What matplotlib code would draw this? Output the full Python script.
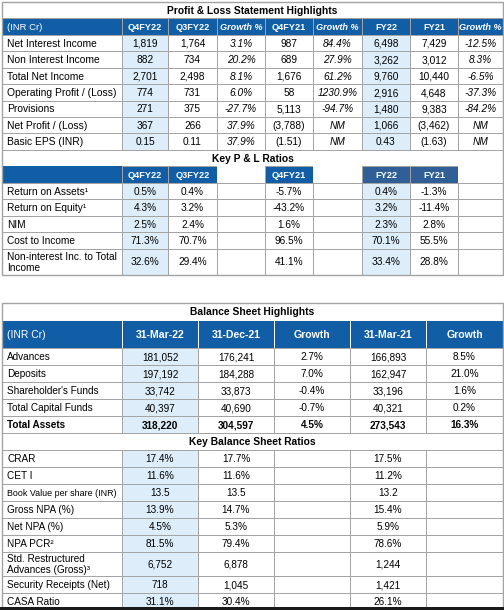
import matplotlib.pyplot as plt
from matplotlib.patches import Rectangle

plt.rcParams["font.family"] = ["Liberation Sans", "DejaVu Sans"]

# data

pl_title = "Profit & Loss Statement Highlights"
pl_unit = "(INR Cr)"
pl_cols = ["Q4FY22", "Q3FY22", "Growth %", "Q4FY21", "Growth %", "FY22", "FY21", "Growth %"]
pl_rows = [
    "Net Interest Income",
    "Non Interest Income",
    "Total Net Income",
    "Operating Profit / (Loss)",
    "Provisions",
    "Net Profit / (Loss)",
    "Basic EPS (INR)",
]
pl_values = [
    ["1,819", "1,764", "3.1%", "987", "84.4%", "6,498", "7,429", "-12.5%"],
    ["882", "734", "20.2%", "689", "27.9%", "3,262", "3,012", "8.3%"],
    ["2,701", "2,498", "8.1%", "1,676", "61.2%", "9,760", "10,440", "-6.5%"],
    ["774", "731", "6.0%", "58", "1230.9%", "2,916", "4,648", "-37.3%"],
    ["271", "375", "-27.7%", "5,113", "-94.7%", "1,480", "9,383", "-84.2%"],
    ["367", "266", "37.9%", "(3,788)", "NM", "1,066", "(3,462)", "NM"],
    ["0.15", "0.11", "37.9%", "(1.51)", "NM", "0.43", "(1.63)", "NM"],
]

plr_title = "Key P & L Ratios"
plr_cols = ["Q4FY22", "Q3FY22", "", "Q4FY21", "", "FY22", "FY21", ""]
plr_rows = [
    "Return on Assets¹",
    "Return on Equity¹",
    "NIM",
    "Cost to Income",
    "Non-interest Inc. to Total\nIncome",
]
plr_values = [
    ["0.5%", "0.4%", "", "-5.7%", "", "0.4%", "-1.3%", ""],
    ["4.3%", "3.2%", "", "-43.2%", "", "3.2%", "-11.4%", ""],
    ["2.5%", "2.4%", "", "1.6%", "", "2.3%", "2.8%", ""],
    ["71.3%", "70.7%", "", "96.5%", "", "70.1%", "55.5%", ""],
    ["32.6%", "29.4%", "", "41.1%", "", "33.4%", "28.8%", ""],
]

bs_title = "Balance Sheet Highlights"
bs_cols = ["31-Mar-22", "31-Dec-21", "Growth", "31-Mar-21", "Growth"]
bs_rows = ["Advances", "Deposits", "Shareholder's Funds", "Total Capital Funds", "Total Assets"]
bs_values = [
    ["181,052", "176,241", "2.7%", "166,893", "8.5%"],
    ["197,192", "184,288", "7.0%", "162,947", "21.0%"],
    ["33,742", "33,873", "-0.4%", "33,196", "1.6%"],
    ["40,397", "40,690", "-0.7%", "40,321", "0.2%"],
    ["318,220", "304,597", "4.5%", "273,543", "16.3%"],
]

bsr_title = "Key Balance Sheet Ratios"
bsr_rows = [
    "CRAR",
    "CET I",
    "Book Value per share (INR)",
    "Gross NPA (%)",
    "Net NPA (%)",
    "NPA PCR²",
    "Std. Restructured\nAdvances (Gross)³",
    "Security Receipts (Net)",
    "CASA Ratio",
]
bsr_values = [
    ["17.4%", "17.7%", "", "17.5%", ""],
    ["11.6%", "11.6%", "", "11.2%", ""],
    ["13.5", "13.5", "", "13.2", ""],
    ["13.9%", "14.7%", "", "15.4%", ""],
    ["4.5%", "5.3%", "", "5.9%", ""],
    ["81.5%", "79.4%", "", "78.6%", ""],
    ["6,752", "6,878", "", "1,244", ""],
    ["718", "1,045", "", "1,421", ""],
    ["31.1%", "30.4%", "", "26.1%", ""],
]

# layout / colours

BLUE = "#115ea6"
DARK_BLUE = "#2f5f96"
LIGHT = "#ddedfa"
GRID = "#a3a3a3"

top_edges = [2, 122, 168, 217, 265, 313, 362, 410, 458, 503]
bot_edges = [2, 122, 198, 274, 350, 426, 503]

fig = plt.figure(figsize=(5.04, 6.10), dpi=100)
ax = fig.add_axes([0, 0, 1, 1])
ax.set_xlim(0, 504)
ax.set_ylim(610, 0)
ax.axis("off")


def cell(x0, x1, y0, y1, text="", fill="white", color="black", size=7.2,
         weight="normal", style="normal", ha="center", edge=GRID):
    ax.add_patch(Rectangle((x0, y0), x1 - x0, y1 - y0, facecolor=fill,
                           edgecolor=edge, linewidth=0.7))
    if not text:
        return
    tx = x0 + 5 if ha == "left" else (x0 + x1) / 2
    if "\n" in text:
        ax.text(tx, (y0 + y1) / 2 + 0.5, text, ha=ha, va="center",
                color=color, fontsize=size, fontweight=weight,
                fontstyle=style, linespacing=1.15)
    else:
        # baseline placed so the cap height sits centred in the cell
        cap = 0.72 * size * 100 / 72
        ax.text(tx, (y0 + y1) / 2 + cap / 2, text, ha=ha, va="baseline",
                color=color, fontsize=size, fontweight=weight,
                fontstyle=style)


def title_row(x0, x1, y0, y1, text):
    cell(x0, x1, y0, y1, text, size=7.4, weight="bold")


# Profit & Loss highlights
title_row(2, 503, 2, 18, pl_title)
y0, y1 = 18, 35
cell(top_edges[0], top_edges[1], y0, y1, pl_unit, fill=BLUE, color="white",
     size=6.8, ha="left")
for j, c in enumerate(pl_cols):
    italic = "Growth" in c
    cell(top_edges[j + 1], top_edges[j + 2], y0, y1, c, fill=BLUE,
         color="white", size=6.6, weight="bold",
         style="italic" if italic else "normal")

y = 35
for i, name in enumerate(pl_rows):
    h = 16.4
    cell(top_edges[0], top_edges[1], y, y + h, name, ha="left", size=7.4)
    for j, v in enumerate(pl_values[i]):
        fill = LIGHT if j in (0, 5) else "white"
        italic = "Growth" in pl_cols[j]
        cell(top_edges[j + 1], top_edges[j + 2], y, y + h, v, fill=fill,
             size=7.3, style="italic" if italic else "normal")
    y += h

# Key P&L ratios
title_row(2, 503, y, y + 16, plr_title)
y += 16
h = 17
cell(top_edges[0], top_edges[1], y, y + h, "", fill=BLUE, edge=BLUE)
for j, c in enumerate(plr_cols):
    if c == "":
        cell(top_edges[j + 1], top_edges[j + 2], y, y + h, "", edge="white")
        continue
    fill = DARK_BLUE if c in ("FY22", "FY21") else BLUE
    cell(top_edges[j + 1], top_edges[j + 2], y, y + h, c, fill=fill,
         color="white", size=6.6, weight="bold", edge=GRID)
y += h
for i, name in enumerate(plr_rows):
    h = 26 if "\n" in name else 16.5
    cell(top_edges[0], top_edges[1], y, y + h, name, ha="left", size=7.3)
    for j, v in enumerate(plr_values[i]):
        fill = LIGHT if j in (0, 5) else "white"
        cell(top_edges[j + 1], top_edges[j + 2], y, y + h, v, fill=fill,
             size=7.3)
    y += h
ax.add_patch(Rectangle((2, 2), 501, y - 2, fill=False, edgecolor=GRID, linewidth=1.0))

# Balance sheet highlights
top = 303
title_row(2, 503, top, top + 17, bs_title)
y = top + 17
h = 28
cell(bot_edges[0], bot_edges[1], y, y + h, pl_unit, fill=BLUE, color="white",
     size=7.4, ha="left", edge="white")
for j, c in enumerate(bs_cols):
    cell(bot_edges[j + 1], bot_edges[j + 2], y, y + h, c, fill=BLUE,
         color="white", size=7.6, weight="bold", edge="white")
y += h
for i, name in enumerate(bs_rows):
    h = 17
    bold = "bold" if name == "Total Assets" else "normal"
    cell(bot_edges[0], bot_edges[1], y, y + h, name, ha="left", weight=bold)
    for j, v in enumerate(bs_values[i]):
        fill = LIGHT if j == 0 else "white"
        cell(bot_edges[j + 1], bot_edges[j + 2], y, y + h, v, fill=fill,
             weight=bold)
    y += h

# Key balance sheet ratios
title_row(2, 503, y, y + 17, bsr_title)
y += 17
for i, name in enumerate(bsr_rows):
    h = 24 if "\n" in name else 17
    size = 6.4 if name.startswith("Book") else 7.2
    cell(bot_edges[0], bot_edges[1], y, y + h, name, ha="left", size=size)
    for j, v in enumerate(bsr_values[i]):
        fill = LIGHT if j == 0 else "white"
        cell(bot_edges[j + 1], bot_edges[j + 2], y, y + h, v, fill=fill)
    y += h
ax.add_patch(Rectangle((2, top), 501, y - top, fill=False, edgecolor=GRID, linewidth=1.0))

# dark strip at the bottom edge of the screenshot
ax.add_patch(Rectangle((0, 607), 504, 3, facecolor="#1a1a1a", edgecolor="none"))

fig.savefig("out.png", dpi=100)
plt.close(fig)
